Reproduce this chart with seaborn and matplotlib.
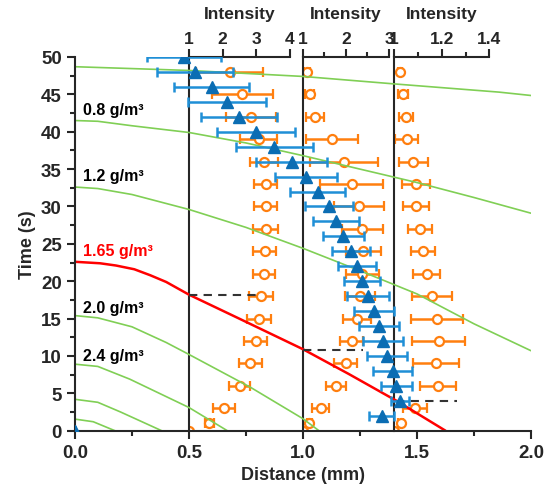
import matplotlib
matplotlib.use("Agg")
import matplotlib.pyplot as plt
from matplotlib.ticker import MultipleLocator
import numpy as np
import seaborn as sns

# Curves (distance in mm, time in s)
g1_x = [0, 0.5, 1.0, 1.4, 1.86, 2.0]
g1_t = [48.7, 48.2, 47.4, 46.4, 45.3, 44.85]
g2_x = [0, 0.1, 0.25, 0.5, 0.75, 1.0, 1.25, 1.5, 1.75, 2.0]
g2_t = [41.5, 41.4, 40.8, 39.9, 38.5, 36.8, 35.0, 33.2, 31.2, 29.1]
g3_x = [0, 0.1, 0.25, 0.5, 0.75, 1.0, 1.25, 1.5, 1.75, 2.0]
g3_t = [32.6, 32.4, 31.6, 29.6, 27.2, 24.4, 21.4, 18.3, 14.3, 10.7]
red_x = [0, 0.11, 0.18, 0.26, 0.33, 0.40, 0.5, 0.72, 1.0, 1.2, 1.41, 1.625]
red_t = [22.6, 22.4, 22.1, 21.6, 20.8, 19.9, 18.2, 15.0, 10.9, 7.6, 4.0, 0]
g4_x = [0, 0.1, 0.25, 0.4, 0.5, 0.77, 1.0, 1.07]
g4_t = [15.4, 15.1, 13.9, 11.8, 10.2, 5.8, 1.6, 0]
g5_x = [0, 0.1, 0.24, 0.5, 0.668]
g5_t = [8.9, 8.6, 6.9, 3.1, 0]
g6_x = [0, 0.1, 0.2, 0.38]
g6_t = [4.2, 3.8, 2.5, 0]
g7_x = [0, 0.08, 0.175]
g7_t = [1.55, 1.2, 0]

density_labels = ['0.8 g/m³', '1.2 g/m³', '1.65 g/m³', '2.0 g/m³', '2.4 g/m³']
density_label_t = [43.0, 34.1, 24.1, 16.5, 10.1]

# Dashed guide lines: (x start, x end, time)
dash_x0 = [0.5, 1.0, 1.41]
dash_x1 = [0.81, 1.265, 1.674]
dash_t = [18.2, 10.85, 4.0]

# Blue triangles: position vs time
blue_t = [50, 48, 46, 44, 42, 40, 38, 36, 34, 32, 30, 28, 26, 24, 22, 20, 18, 16, 14, 12, 10, 8, 6, 4, 2, 0]
blue_x = [0.478, 0.526, 0.60, 0.665, 0.721, 0.794, 0.873, 0.950, 1.013, 1.065, 1.115, 1.145, 1.177,
          1.211, 1.236, 1.259, 1.286, 1.311, 1.334, 1.349, 1.370, 1.393, 1.410, 1.425, 1.345, 0.0]
blue_err = [0.164, 0.167, 0.165, 0.171, 0.167, 0.173, 0.169, 0.154, 0.136, 0.121, 0.106, 0.102, 0.089,
            0.084, 0.084, 0.078, 0.091, 0.086, 0.088, 0.088, 0.088, 0.085, 0.066, 0.041, 0.056, 0.0]

# Intensity at three positions (orange circles)
int_t = [48, 45, 42, 39, 36, 33, 30, 27, 24, 21, 18, 15, 12, 9, 6, 3, 1, 0]
int1 = [2.21, 2.59, 2.84, 3.07, 3.23, 3.28, 3.28, 3.28, 3.25, 3.23, 3.15, 3.08, 2.98, 2.83, 2.51, 2.04, 1.60, 1.0]
int1_err = [0.99, 0.91, 0.75, 0.56, 0.41, 0.35, 0.35, 0.37, 0.34, 0.33, 0.36, 0.35, 0.34, 0.34, 0.32, 0.32, 0.13, 0.0]
int2 = [1.10, 1.155, 1.27, 1.68, 1.95, 2.13, 2.30, 2.38, 2.40, 2.38, 2.32, 2.25, 2.13, 1.99, 1.76, 1.41, 1.15, 1.0]
int2_err = [0.07, 0.10, 0.21, 0.61, 0.79, 0.74, 0.58, 0.48, 0.41, 0.39, 0.35, 0.33, 0.27, 0.27, 0.23, 0.20, 0.06, 0.0]
int3 = [1.025, 1.035, 1.049, 1.053, 1.081, 1.091, 1.091, 1.109, 1.12, 1.136, 1.158, 1.18, 1.187, 1.175, 1.185, 1.088, 1.028, 1.0]
int3_err = [0.008, 0.021, 0.028, 0.049, 0.062, 0.06, 0.054, 0.052, 0.051, 0.055, 0.084, 0.111, 0.112, 0.096, 0.075, 0.05, 0.01, 0.0]

# intensity axes: position (mm), width (mm), limits, major step, minor step
panel_pos = [0.5, 1.0, 1.4]
panel_width = [0.442, 0.377, 0.417]
panel_lim = [(1, 4), (1, 3), (1, 1.4)]
panel_major = [1, 1, 0.2]
panel_minor = [1, 0.5, 0.1]

sns.set_style('ticks')
plt.rcParams['font.family'] = ['Liberation Sans', 'DejaVu Sans']
plt.rcParams['font.weight'] = 'bold'
plt.rcParams['axes.labelweight'] = 'bold'
plt.rcParams['axes.linewidth'] = 1.5

GREEN = '#80cf55'
ORANGE = '#ff7f0f'
BLUE = '#0b6db3'
BLUE_BAR = '#1f8fd6'

fig = plt.figure(figsize=(5.52, 4.85), dpi=100)
ax = fig.add_axes([75 / 552, 1 - 431.7 / 485, 456 / 552, 373.7 / 485])

for cx, ct in [(g1_x, g1_t), (g2_x, g2_t), (g3_x, g3_t), (g4_x, g4_t),
               (g5_x, g5_t), (g6_x, g6_t), (g7_x, g7_t)]:
    sns.lineplot(x=cx, y=ct, ax=ax, color=GREEN, lw=1.2, sort=False, estimator=None)
sns.lineplot(x=red_x, y=red_t, ax=ax, color='#ff0000', lw=1.8, sort=False, estimator=None)

ax.hlines(dash_t, dash_x0, dash_x1, colors='#333333', linestyles=(0, (4, 3)), lw=1.5)

ax.errorbar(blue_x, blue_t, xerr=blue_err, fmt='^', color=BLUE, ecolor=BLUE_BAR, ms=9,
            elinewidth=1.8, capsize=3.5, capthick=1.8, zorder=4)

for lab, tt in zip(density_labels, density_label_t):
    ax.text(0.035, tt, lab, color='red' if lab.startswith('1.65') else 'black',
            fontsize=11.5, fontweight='bold', va='center', ha='left')

ax.set_xlim(0, 2.0)
ax.set_ylim(0, 50)
ax.xaxis.set_major_locator(MultipleLocator(0.5))
ax.xaxis.set_minor_locator(MultipleLocator(0.25))
ax.yaxis.set_major_locator(MultipleLocator(5))
ax.yaxis.set_minor_locator(MultipleLocator(2.5))
ax.xaxis.set_major_formatter(matplotlib.ticker.FormatStrFormatter('%.1f'))
ax.tick_params(which='major', direction='out', length=6, width=1.5, labelsize=13.5)
ax.tick_params(which='minor', direction='out', length=3.5, width=1.5)
ax.set_xlabel('Distance (mm)', fontsize=13, labelpad=4)
ax.set_ylabel('Time (s)', fontsize=13, labelpad=4)
sns.despine(ax=ax)

# Intensity panels
int_data = [(int1, int1_err), (int2, int2_err), (int3, int3_err)]
for i in range(3):
    ins = ax.inset_axes([panel_pos[i], 0, panel_width[i], 50], transform=ax.transData, zorder=1)
    ins.patch.set_alpha(0)
    vals, errs = int_data[i]
    ins.errorbar(vals, int_t, xerr=errs, fmt='o', color=ORANGE, mfc='white', mec=ORANGE,
                 ms=6.5, mew=1.6, elinewidth=1.8, capsize=3.5, capthick=1.8)
    ins.set_xlim(*panel_lim[i])
    ins.set_ylim(0, 50)
    for side in ['right', 'bottom']:
        ins.spines[side].set_visible(False)
    ins.spines['left'].set_linewidth(1.5)
    ins.spines['top'].set_linewidth(1.5)
    ins.set_yticks([])
    ins.xaxis.tick_top()
    ins.xaxis.set_major_locator(MultipleLocator(panel_major[i]))
    ins.xaxis.set_minor_locator(MultipleLocator(panel_minor[i]))
    if i == 2:
        ins.xaxis.set_major_formatter(matplotlib.ticker.FormatStrFormatter('%g'))
    ins.tick_params(which='major', direction='out', length=6, width=1.5, labelsize=12.5, pad=2)
    ins.tick_params(which='minor', direction='out', length=3.5, width=1.5)
    ins.annotate('Intensity', xy=(0.5, 1), xycoords='axes fraction', xytext=(0, 31),
                 textcoords='offset points', ha='center', va='center',
                 fontsize=12.5, fontweight='bold')

fig.savefig('out.png', dpi=100)
